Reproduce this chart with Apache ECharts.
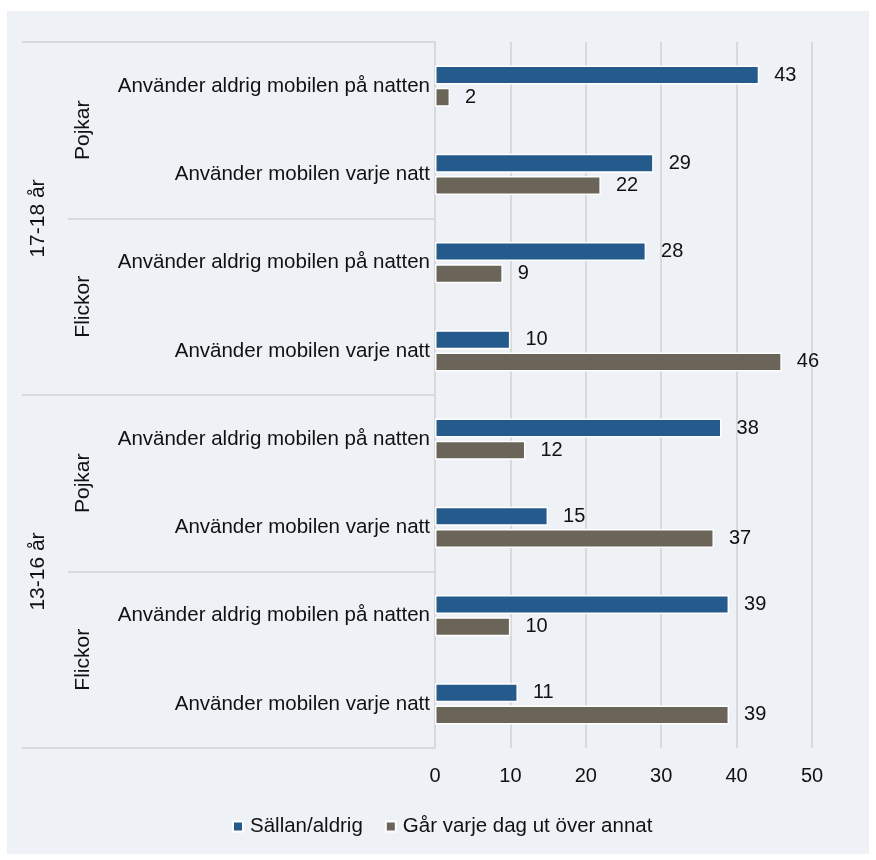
<!DOCTYPE html>
<html>
<head>
<meta charset="utf-8">
<script src="https://cdn.jsdelivr.net/npm/echarts@6/dist/echarts.min.js"></script>
<style>
html,body{margin:0;padding:0;background:#ffffff;}
#wrap{position:absolute;left:7px;top:11px;width:862px;height:843px;background:#eef1f5;}
#chart{position:absolute;left:0;top:0;width:876px;height:860px;}
</style>
</head>
<body>
<div id="wrap"></div>
<div id="chart"></div>
<script>
const ageGroups = ['17-18 år', '13-16 år'];
const genders = ['Pojkar', 'Flickor'];
const behaviours = ['Använder aldrig mobilen på natten', 'Använder mobilen varje natt'];
const seriesNames = ['Sällan/aldrig', 'Går varje dag ut över annat'];
// values top to bottom
const sallanAldrig = [43, 29, 28, 10, 38, 15, 39, 11];
const garVarjeDag = [2, 22, 9, 46, 12, 37, 10, 39];
const xTicks = [0, 10, 20, 30, 40, 50];

const categories = [];
const genderCats = [];
ageGroups.forEach(a => genders.forEach(g => {
  genderCats.push(a + '|' + g);
  behaviours.forEach(b => categories.push(a + '|' + g + '|' + b));
}));

const FONT = '"Liberation Sans", Arial, sans-serif';
const lineColor = '#d9d9d9';
const txt = '#111111';

const chart = echarts.init(document.getElementById('chart'), null, {renderer: 'canvas'});
const labelRight = {
  show: true, position: 'right', distance: 15,
  color: txt, fontSize: 20, fontFamily: FONT
};
chart.setOption({
  backgroundColor: 'transparent',
  animation: false,
  textStyle: {fontFamily: FONT},
  grid: {left: 435, right: 64, top: 42, bottom: 112, containLabel: false},
  xAxis: {
    type: 'value', min: xTicks[0], max: xTicks[xTicks.length - 1], interval: 10,
    axisLine: {show: false}, axisTick: {show: false},
    splitLine: {show: true, lineStyle: {color: lineColor, width: 2}},
    axisLabel: {color: txt, fontSize: 20, fontFamily: FONT, margin: 18}
  },
  yAxis: [
    {
      type: 'category', data: categories, inverse: true,
      axisLine: {show: true, lineStyle: {color: lineColor, width: 2}},
      axisTick: {show: false},
      axisLabel: {
        color: txt, fontSize: 20.5, fontFamily: FONT, margin: 5, interval: 0,
        formatter: v => v.split('|')[2]
      }
    },
    {
      type: 'category', data: genderCats, inverse: true, position: 'left', offset: 0,
      axisLine: {show: false},
      axisTick: {show: true, length: 367, interval: 0, lineStyle: {color: lineColor, width: 2}},
      axisLabel: {
        color: txt, fontSize: 21, fontFamily: FONT, rotate: 90, margin: 341, interval: 0,
        formatter: v => v.split('|')[1]
      }
    },
    {
      type: 'category', data: ageGroups, inverse: true, position: 'left', offset: 0,
      axisLine: {show: false},
      axisTick: {show: true, length: 413, interval: 0, lineStyle: {color: lineColor, width: 2}},
      axisLabel: {
        color: txt, fontSize: 21, fontFamily: FONT, rotate: 90, margin: 386, interval: 0
      }
    }
  ],
  legend: {
    bottom: 18, left: 227, itemWidth: 10, itemHeight: 10, itemGap: 22,
    icon: 'rect',
    textStyle: {color: txt, fontSize: 20.5, fontFamily: FONT, padding: [0, 0, 0, 2]},
    data: seriesNames
  },
  series: [
    {
      name: seriesNames[0], type: 'bar', data: sallanAldrig, yAxisIndex: 0,
      barWidth: 19, barGap: '16%',
      itemStyle: {color: '#255a8c', borderColor: '#ffffff', borderWidth: 1.5},
      label: labelRight
    },
    {
      name: seriesNames[1], type: 'bar', data: garVarjeDag, yAxisIndex: 0,
      barWidth: 19,
      itemStyle: {color: '#6b6459', borderColor: '#ffffff', borderWidth: 1.5},
      label: labelRight
    }
  ]
});
</script>
</body>
</html>
